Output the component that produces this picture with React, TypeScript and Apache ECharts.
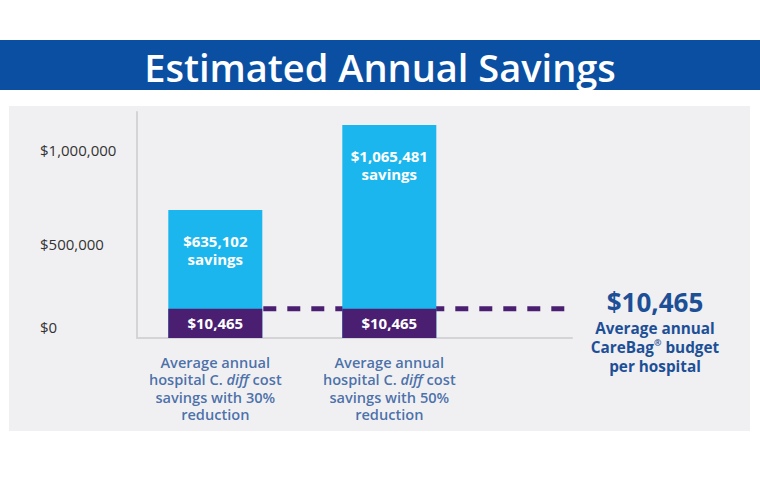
import React, { useEffect, useRef } from "react";
import * as echarts from "echarts";

// ---- data ----
const titleText = "Estimated Annual Savings";
const categories = [
  ["Average annual", "hospital C. diff cost", "savings with 30%", "reduction"],
  ["Average annual", "hospital C. diff cost", "savings with 50%", "reduction"],
];
const barPositions = [0.45, 1.45];
const savingsValues = [635102, 1065481];
const budgetValue = 10465;
// bar tops as drawn in the infographic (not to scale)
const budgetBandTops = [155000, 155000];
const savingsBarTops = [680000, 1131000];
const yTickValues = [0, 500000, 1000000];
const yTickLabels = ["$0", "$500,000", "$1,000,000"];
const budgetNote = ["Average annual", "CareBag", "budget", "per hospital"];

const FONT = "'Open Sans', sans-serif";
const NAVY = "#1d4f97";
const PURPLE = "#4a1f72";
const CYAN = "#1bb6ee";
const BAND = "#0b4fa3";

const money = (v: number) => "$" + v.toLocaleString("en-US");

export default function App() {
  const ref = useRef<HTMLDivElement>(null);
  useEffect(() => {
    if (!ref.current) return;
    const chart = echarts.init(ref.current, undefined, { renderer: "svg" });
    const catRich = (lines: string[]) => {
      const l2 = lines[1].replace("diff", "\u0000");
      const [a, b] = l2.split("\u0000");
      return [
        `{t|${lines[0]}}`,
        `{t|${a}}{i|diff}{t|${b}}`,
        `{t|${lines[2]}}`,
        `{t|${lines[3]}}`,
      ].join("\n");
    };
    const catStyle = { fontFamily: FONT, fontSize: 14.6, fontWeight: 600, color: NAVY, lineHeight: 17.5 };
    const noteStyle = { fontFamily: FONT, fontSize: 15.3, fontWeight: 700, color: NAVY, lineHeight: 18.8 };
    chart.setOption({
      animation: false,
      backgroundColor: "#ffffff",
      title: {
        text: titleText,
        left: "center",
        top: 43,
        textStyle: { color: "#ffffff", fontFamily: FONT, fontSize: 38, fontWeight: 600 },
      },
      graphic: [
        { type: "rect", z: -5, shape: { x: 0, y: 40, width: 760, height: 50 }, style: { fill: BAND } },
        { type: "rect", z: -5, shape: { x: 9, y: 106, width: 741, height: 325 }, style: { fill: "#f0f0f2" } },
      ],
      grid: { left: 137, right: 188, top: 112, bottom: 162 },
      xAxis: {
        type: "value",
        min: 0,
        max: 2.5,
        axisLine: { show: true, onZero: false, lineStyle: { color: "#d4d4d8", width: 2 } },
        axisTick: { show: false },
        axisLabel: { show: false },
        splitLine: { show: false },
      },
      yAxis: {
        type: "value",
        min: 0,
        max: 1200000,
        interval: 500000,
        axisLine: { show: true, onZero: false, lineStyle: { color: "#d4d4d8", width: 2 } },
        axisTick: { show: false },
        splitLine: { show: false },
        axisLabel: {
          align: "left",
          margin: 97,
          color: "#333333",
          fontFamily: FONT,
          fontSize: 15,
          formatter: (v: number) => {
            const i = yTickValues.indexOf(v);
            if (i < 0) return "";
            return v === 0 ? `{zero|${yTickLabels[i]}}` : yTickLabels[i];
          },
          rich: {
            zero: { fontFamily: FONT, fontSize: 15, color: "#333333", padding: [0, 0, 22, 0] },
          },
        },
      },
      series: [
        {
          type: "line",
          z: 1,
          data: [
            [barPositions[0], budgetBandTops[0]],
            [2.5, budgetBandTops[0]],
          ],
          symbol: "none",
          lineStyle: { color: PURPLE, width: 5, type: [13, 11] },
          endLabel: {
            show: true,
            align: "center",
            verticalAlign: "top",
            distance: 0,
            offset: [83, -23],
            formatter: () =>
              `{big|${money(budgetValue)}}\n{s|${budgetNote[0]}}\n{s|${budgetNote[1]}}{sup|®}{s| ${budgetNote[2]}}\n{s|${budgetNote[3]}}`,
            rich: {
              big: { fontFamily: FONT, fontSize: 26, fontWeight: 700, color: NAVY, lineHeight: 33 },
              s: noteStyle,
              sup: { fontFamily: FONT, fontSize: 9, fontWeight: 700, color: NAVY, lineHeight: 10, verticalAlign: "top" },
            },
          },
        },
        {
          type: "bar",
          z: 3,
          barWidth: 94,
          data: barPositions.map((x, i) => [x, savingsBarTops[i]]),
          itemStyle: { color: CYAN },
          label: {
            show: true,
            position: "insideTop",
            distance: 22,
            formatter: (p: any) => `${money(savingsValues[p.dataIndex])}\nsavings`,
            color: "#ffffff",
            fontFamily: FONT,
            fontSize: 15,
            fontWeight: 700,
            lineHeight: 18,
          },
        },
        {
          type: "bar",
          z: 4,
          barWidth: 94,
          barGap: "-100%",
          data: barPositions.map((x, i) => [x, budgetBandTops[i]]),
          itemStyle: { color: PURPLE },
          label: {
            show: true,
            position: "inside",
            formatter: () => money(budgetValue),
            color: "#ffffff",
            fontFamily: FONT,
            fontSize: 15,
            fontWeight: 700,
          },
        },
        {
          type: "scatter",
          symbolSize: 0,
          data: barPositions.map((x) => [x, 0]),
          label: {
            show: true,
            position: "bottom",
            distance: 15,
            formatter: (p: any) => catRich(categories[p.dataIndex]),
            rich: {
              t: catStyle,
              i: { ...catStyle, fontStyle: "italic" },
            },
          },
        },
      ],
    });
    return () => chart.dispose();
  }, []);
  return (
    <div
      ref={ref}
      style={{ position: "fixed", left: 0, top: 0, width: 760, height: 500, background: "#fff" }}
    />
  );
}
